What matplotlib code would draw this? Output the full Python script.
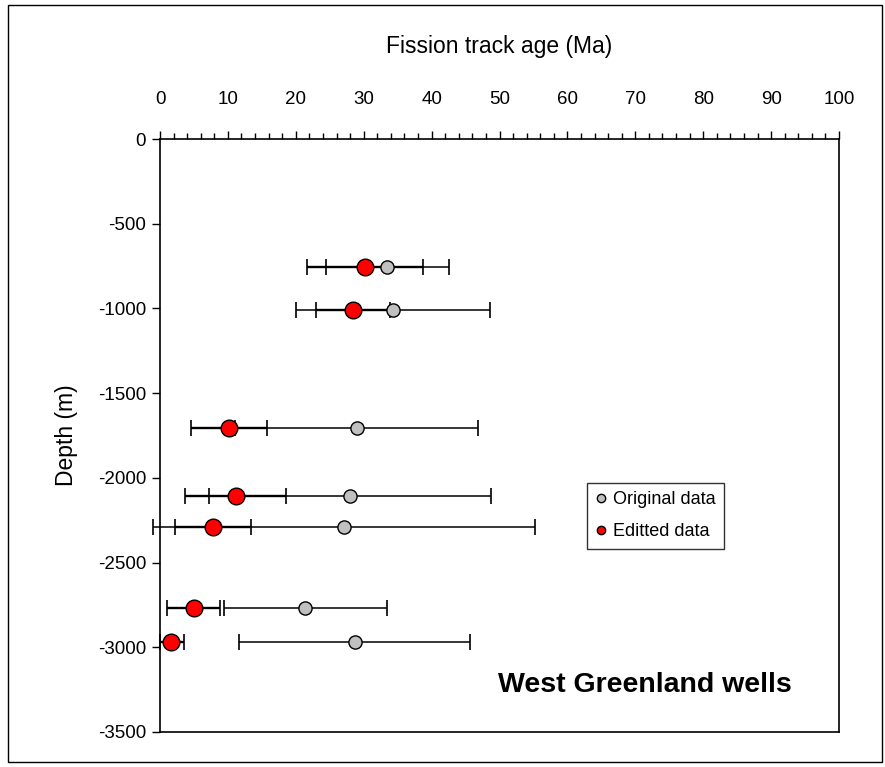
import matplotlib
matplotlib.use("Agg")
import matplotlib.pyplot as plt
from matplotlib.patches import Rectangle
from matplotlib.ticker import MultipleLocator

plt.rcParams['font.family'] = ['Liberation Sans', 'DejaVu Sans']
plt.rcParams['axes.unicode_minus'] = False

# depth of each sample (m)
depth = [-755, -1009, -1704, -2109, -2289, -2770, -2968]

# original fission track ages and errors (Ma)
orig_age = [33.5, 34.3, 28.95, 28.0, 27.1, 21.4, 28.65]
orig_err = [9.0, 14.3, 17.85, 20.8, 28.2, 12.0, 17.05]

# edited ages with lower / upper errors (Ma)
edit_age = [30.2, 28.4, 10.2, 11.15, 7.8, 4.95, 1.6]
edit_lo = [8.5, 5.4, 5.6, 7.45, 5.6, 3.95, 1.6]
edit_hi = [8.5, 5.4, 5.6, 7.45, 5.6, 3.95, 2.0]

fig = plt.figure(figsize=(8.85, 7.67), dpi=100)
ax = fig.add_axes([160 / 885, 1 - 732 / 767, 679 / 885, 593 / 767])

# error bars first, markers on top
ax.errorbar(orig_age, depth, xerr=orig_err, fmt='none', ecolor='black',
            elinewidth=1.1, capsize=5.5, capthick=1.2, zorder=2, clip_on=False)
ax.errorbar(edit_age, depth, xerr=[edit_lo, edit_hi], fmt='none', ecolor='black',
            elinewidth=1.7, capsize=5.5, capthick=1.2, zorder=3, clip_on=False)
ax.plot(orig_age, depth, 'o', color='#c0c0c0', mec='black', mew=1.0, ms=9.5,
        zorder=4, clip_on=False, linestyle='none')
ax.plot(edit_age, depth, 'o', color='red', mec='black', mew=1.0, ms=12,
        zorder=5, clip_on=False, linestyle='none')

ax.set_xlim(0, 100)
ax.set_ylim(-3500, 0)
ax.xaxis.tick_top()
ax.xaxis.set_label_position('top')
ax.xaxis.set_major_locator(MultipleLocator(10))
ax.xaxis.set_minor_locator(MultipleLocator(2))
ax.yaxis.set_major_locator(MultipleLocator(500))
ax.tick_params(axis='x', which='major', direction='out', length=6, width=1,
               labelsize=13.5, pad=16)
ax.tick_params(axis='x', which='minor', direction='out', length=4, width=1)
ax.tick_params(axis='y', which='major', direction='out', length=6, width=1,
               labelsize=13.5, pad=4)
for s in ax.spines.values():
    s.set_linewidth(1.2)

ax.set_xlabel('Fission track age (Ma)', fontsize=16.5, labelpad=28)
ax.set_ylabel('Depth (m)', fontsize=16.5, labelpad=14)

# legend with marker-only handles
h1, = ax.plot([], [], 'o', color='#c0c0c0', mec='black', mew=1.0, ms=6)
h2, = ax.plot([], [], 'o', color='red', mec='black', mew=1.0, ms=6)
leg = ax.legend([h1, h2], ['Original data', 'Editted data'], loc='upper left',
                bbox_to_anchor=((587 - 160) / 679, (732 - 483) / 593),
                borderaxespad=0, fontsize=13, frameon=True, fancybox=False,
                handlelength=0.6, handletextpad=0.4, borderpad=0.45,
                labelspacing=0.85)
leg.get_frame().set_edgecolor('black')
leg.get_frame().set_linewidth(1.0)

ax.text((645 - 160) / 679, (732 - 692) / 593, 'West Greenland wells',
        transform=ax.transAxes, ha='center', va='baseline',
        fontsize=20.5, fontweight='bold')

# outer chart border
fig.patches.append(Rectangle((8 / 885, 5 / 767), 874 / 885, 757 / 767,
                             transform=fig.transFigure, fill=False,
                             edgecolor='black', linewidth=1.0))

fig.savefig('out.png', dpi=100)
